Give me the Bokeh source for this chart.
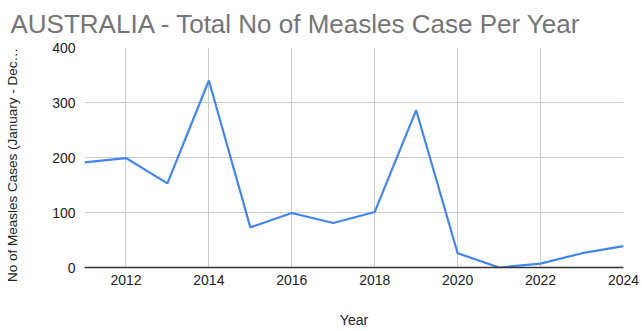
from bokeh.plotting import figure
from bokeh.models import Range1d, FixedTicker, Title
from bokeh.embed import file_html
from bokeh.resources import INLINE

years = [2011, 2012, 2013, 2014, 2015, 2016, 2017, 2018, 2019, 2020, 2021, 2022, 2023, 2024]
cases = [191, 199, 153, 340, 73, 99, 81, 101, 286, 26, 0, 7, 26, 39]
x_ticks = [2012, 2014, 2016, 2018, 2020, 2022, 2024]
y_ticks = [0, 100, 200, 300, 400]

FONT = "Liberation Sans"

p = figure(width=642, height=331, output_backend="svg", toolbar_location=None,
           x_range=Range1d(2011, 2024), y_range=Range1d(0, 400),
           min_border_left=84, min_border_right=19, min_border_top=47, min_border_bottom=64)
p.outline_line_color = None
p.background_fill_color = "white"
p.border_fill_color = "white"

title = Title(text="AUSTRALIA - Total No of Measles Case Per Year", text_font=FONT,
              text_font_size="26px", text_font_style="normal", text_color="#757575",
              vertical_align="top", offset=-74, standoff=14)
p.add_layout(title, "above")

p.line(years, cases, line_color="#4285F4", line_width=2.2)

p.xaxis.ticker = FixedTicker(ticks=x_ticks)
p.yaxis.ticker = FixedTicker(ticks=y_ticks)
p.xaxis.major_label_overrides = {t: str(t) for t in x_ticks}

for ax in (p.xaxis[0], p.yaxis[0]):
    ax.major_tick_line_color = None
    ax.minor_tick_line_color = None
    ax.major_tick_out = 0
    ax.major_tick_in = 0
    ax.minor_tick_out = 0
    ax.major_label_text_font = FONT
    ax.major_label_text_font_size = "14px"
    ax.major_label_text_color = "#222222"
    ax.axis_label_text_font = FONT
    ax.axis_label_text_font_style = "normal"
    ax.axis_label_text_color = "#222222"

p.yaxis.axis_line_color = None
p.yaxis.major_label_standoff = 9
p.yaxis.axis_label = "No of Measles Cases (January - Dec\u2026\u00a0\u00a0\u00a0\u00a0"
p.yaxis.axis_label_text_font_size = "13.5px"
p.yaxis.axis_label_standoff = 29

p.xaxis.axis_line_color = "#333333"
p.xaxis.axis_line_width = 1.5
p.xaxis.major_label_standoff = 7
p.xaxis.axis_label = "Year"
p.xaxis.axis_label_text_font_size = "14px"
p.xaxis.axis_label_standoff = 24

p.xgrid.ticker = FixedTicker(ticks=x_ticks)
p.xgrid.grid_line_color = "#cccccc"
p.xgrid.grid_line_width = 1
p.ygrid.grid_line_color = "#cccccc"
p.ygrid.grid_line_width = 1

open("out.html", "w").write(file_html(p, INLINE))
